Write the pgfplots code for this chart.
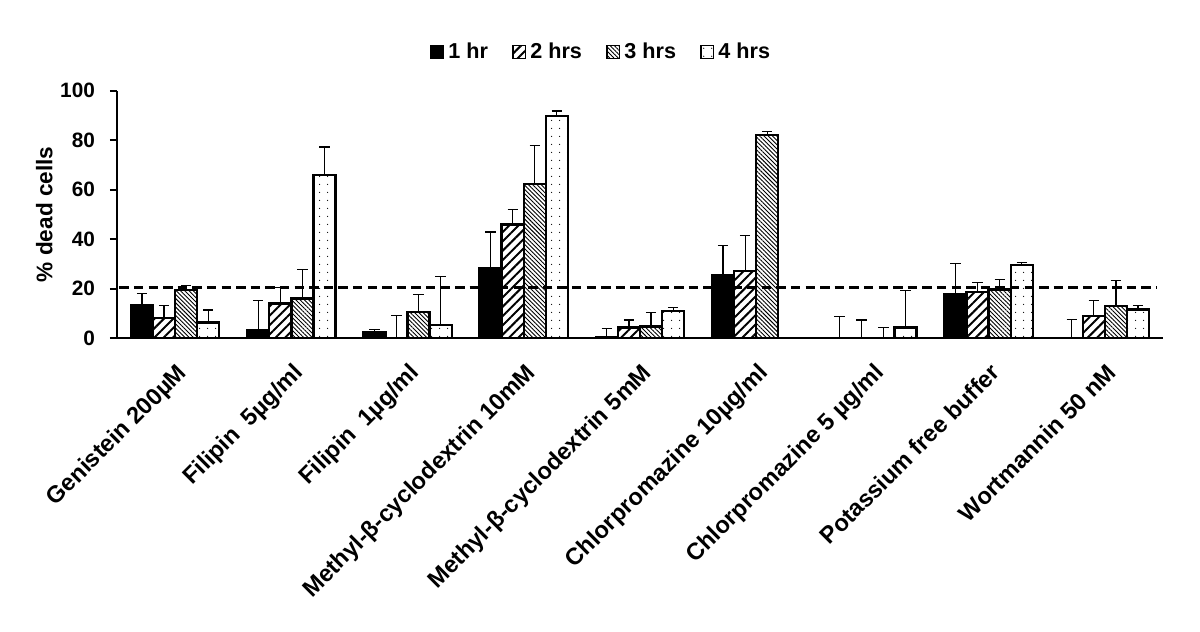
\documentclass[border=0pt]{standalone}
\usepackage{fontspec}
\setmainfont{Liberation Sans}
\usepackage{pgfplots}
\usepackage{pgfplotstable}
\pgfplotsset{compat=1.18}
\usetikzlibrary{patterns.meta}

\pgfplotstableread{
x y e
0 13.3 4.8
1 3.3 12.1
2 2.3 1.3
3 28.2 14.7
4 0.5 3.5
5 25.5 12.0
6 0 8.7
7 17.7 12.5
8 0 7.6
}\tA
\pgfplotstableread{
x y e
0 8.1 5.0
1 14.1 6.4
2 0 9.1
3 46.0 6.1
4 4.3 3.1
5 27.2 14.3
6 0 7.4
7 18.6 3.9
8 9.0 6.4
}\tB
\pgfplotstableread{
x y e
0 19.5 1.7
1 16.1 11.7
2 10.7 7.0
3 62.3 15.4
4 4.7 5.8
5 82.1 1.5
6 0 4.5
7 19.7 4.1
8 13.0 10.2
}\tC
\pgfplotstableread{
x y e
0 6.3 5.1
1 66.0 11.2
2 5.4 19.4
3 89.7 2.0
4 11.1 1.2
6 4.4 14.8
7 29.5 1.1
8 11.7 1.4
}\tD

\begin{document}
\begin{tikzpicture}
\useasboundingbox (-58.5pt,-146.85pt) rectangle (541.5pt,169.15pt);
\begin{axis}[
  at={(0,0)}, anchor=south west,
  scale only axis, width=523pt, height=123.9pt,
  xmin=-0.5, xmax=8.5, ymin=0, ymax=100,
  axis lines*=left,
  axis line style={line width=1pt},
  every tick/.style={black, line width=1pt},
  tick align=outside,
  ytick={0,20,...,100},
  major tick length=3.5pt,
  xtick={0,...,8},
  x tick style={draw=none},
  minor xtick={-0.5,0.5,...,8.5},
  minor tick length=4pt,
  minor x tick style={black, line width=1pt},
  xticklabels={Genistein 200µM, Filipin\ \ 5µg/ml, Filipin\ \ 1µg/ml, Methyl-β-cyclodextrin 10mM, Methyl-β-cyclodextrin 5mM, Chlorpromazine 10µg/ml, Chlorpromazine 5 µg/ml, Potassium free buffer, Wortmannin 50 nM},
  xticklabel style={rotate=45, anchor=north east, inner sep=1pt, yshift=-5pt, xshift=-4.5pt, font=\fontsize{11.8}{13}\selectfont\bfseries},
  yticklabel style={font=\fontsize{10.4}{12}\selectfont\bfseries, xshift=-4pt},
  /pgf/number format/assume math mode=true,
  ylabel={\% dead cells},
  ylabel style={font=\fontsize{11.3}{13}\selectfont\bfseries, yshift=-3pt},
  ybar, bar width=0.19,
  error bars/y dir=plus, error bars/y explicit,
  error bars/error bar style={line width=0.6pt, black},
  error bars/error mark options={black, line width=0.6pt, mark size=2.6pt, rotate=90},
  legend columns=4,
  legend style={at={(0.4637,1.155)}, anchor=center, draw=none, fill=none,
    font=\fontsize{10.8}{12}\selectfont\bfseries,
    /tikz/every even column/.append style={column sep=10pt}},
  legend image code/.code={\draw[#1, line width=0.8pt] (0pt,-3.2pt) rectangle (6.4pt,3.2pt);},
]
\addplot[draw=black, fill=black, line width=1.2pt, bar shift=-0.285] table[x=x,y=y,y error=e]{\tA};
\addplot[draw=black, line width=1.2pt, bar shift=-0.095, pattern={Lines[angle=45, distance=3.3pt, line width=1pt]}] table[x=x,y=y,y error=e]{\tB};
\addplot[draw=black, line width=1.2pt, bar shift=0.095, pattern={Lines[angle=-45, distance=1.5pt, line width=0.45pt]}] table[x=x,y=y,y error=e]{\tC};
\addplot[draw=black, line width=1.2pt, bar shift=0.285, pattern={Dots[distance=4pt, radius=0.35pt]}] table[x=x,y=y,y error=e]{\tD};
\legend{1 hr, 2 hrs, 3 hrs, 4 hrs}
\draw[black, line width=1.3pt, dash pattern=on 4.7pt off 2.6pt] (axis cs:-0.48,20.5) -- (axis cs:8.45,20.5);
\end{axis}
\end{tikzpicture}
\end{document}
